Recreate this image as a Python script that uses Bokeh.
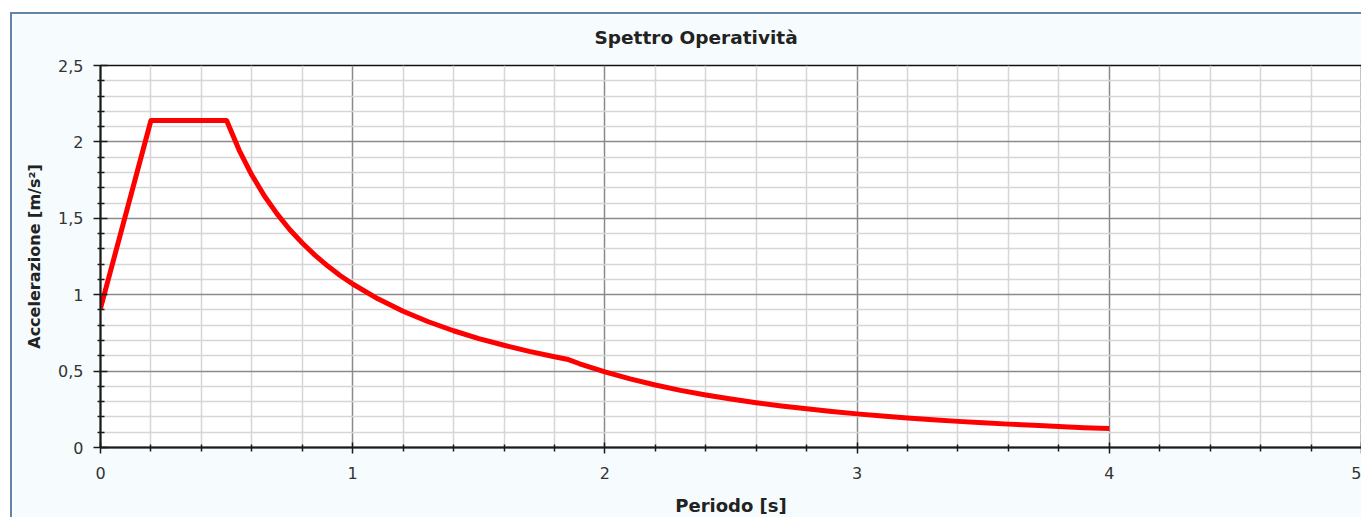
from bokeh.plotting import figure
from bokeh.models import Range1d, FixedTicker, Title
from bokeh.embed import file_html
from bokeh.resources import INLINE

# ---- data ----
periods = [0.0, 0.2, 0.5, 0.55, 0.6, 0.65, 0.7, 0.75, 0.8, 0.85, 0.9, 0.95,
           1.0, 1.1, 1.2, 1.3, 1.4, 1.5, 1.6, 1.7, 1.8, 1.85,
           1.9, 2.0, 2.1, 2.2, 2.3, 2.4, 2.5, 2.6, 2.7, 2.8, 2.9,
           3.0, 3.1, 3.2, 3.3, 3.4, 3.5, 3.6, 3.7, 3.8, 3.9, 4.0]
accel = [0.91, 2.14, 2.14, 1.945, 1.783, 1.646, 1.529, 1.427, 1.338, 1.259, 1.189, 1.126,
         1.07, 0.973, 0.892, 0.823, 0.764, 0.713, 0.669, 0.629, 0.594, 0.578,
         0.548, 0.495, 0.449, 0.409, 0.374, 0.344, 0.317, 0.293, 0.272, 0.253, 0.235,
         0.220, 0.206, 0.193, 0.182, 0.171, 0.162, 0.153, 0.145, 0.137, 0.130, 0.124]

x_major = [0, 1, 2, 3, 4, 5]
x_minor = [0.2, 0.4, 0.6, 0.8, 1.2, 1.4, 1.6, 1.8, 2.2, 2.4, 2.6, 2.8,
           3.2, 3.4, 3.6, 3.8, 4.2, 4.4, 4.6, 4.8]
x_labels = ["0", "1", "2", "3", "4", "5"]
y_major = [0, 0.5, 1, 1.5, 2, 2.5]
y_minor = [0.1, 0.2, 0.3, 0.4, 0.6, 0.7, 0.8, 0.9, 1.1, 1.2, 1.3, 1.4,
           1.6, 1.7, 1.8, 1.9, 2.1, 2.2, 2.3, 2.4]
y_labels = ["0", "0,5", "1", "1,5", "2", "2,5"]

title_text = "Spettro Operatività"
x_title = "Periodo [s]"
y_title = "Accelerazione [m/s²]"

p = figure(width=1351, height=505, output_backend="svg", toolbar_location=None,
           x_range=Range1d(0, 5), y_range=Range1d(0, 2.5),
           min_border_left=88, min_border_right=2, min_border_top=51, min_border_bottom=72)

# outer chart frame (top and left edges visible in the reference)
p.styles = {"margin-left": "10px", "margin-top": "12px",
            "border-left": "2px solid #6383a9", "border-top": "2px solid #6383a9"}

p.border_fill_color = "#f6fcfd"
p.background_fill_color = "#ffffff"
p.outline_line_color = "#111111"
p.outline_line_width = 1.5

# title, with an empty spacer between it and the plot area
main_title = Title(text=title_text, align="left", offset=494, standoff=0,
                   text_font="DejaVu Sans", text_font_style="bold",
                   text_font_size="18.5px", text_color="#222222")
spacer = Title(text=" ", text_font_size="1px", standoff=15)
p.title = None
p.add_layout(spacer, "above")
p.add_layout(main_title, "above")

# axes
xa = p.xaxis[0]
ya = p.yaxis[0]
xa.ticker = FixedTicker(ticks=x_major, minor_ticks=x_minor)
ya.ticker = FixedTicker(ticks=y_major, minor_ticks=y_minor)
xa.major_label_overrides = {v: s for v, s in zip(x_major, x_labels)}
ya.major_label_overrides = {v: s for v, s in zip(y_major, y_labels)}

for ax in (xa, ya):
    ax.axis_line_color = "#1a1a1a"
    ax.axis_line_width = 2
    ax.major_tick_line_color = "#1a1a1a"
    ax.minor_tick_line_color = "#1a1a1a"
    ax.major_tick_line_width = 1.5
    ax.minor_tick_line_width = 1.5
    ax.major_label_text_font = "DejaVu Sans"
    ax.major_label_text_font_size = "16px"
    ax.major_label_text_color = "#333333"
    ax.axis_label_text_font = "DejaVu Sans"
    ax.axis_label_text_font_style = "bold"
    ax.axis_label_text_color = "#222222"

xa.axis_label = x_title
xa.axis_label_text_font_size = "18px"
xa.major_tick_in = 5
xa.major_tick_out = 6
xa.minor_tick_in = 3
xa.minor_tick_out = 4
xa.major_label_standoff = 13
xa.axis_label_standoff = 13

ya.axis_label = y_title
ya.axis_label_text_font_size = "16px"
ya.major_tick_in = 7
ya.major_tick_out = 7
ya.minor_tick_in = 4
ya.minor_tick_out = 3
ya.major_label_standoff = 10
ya.axis_label_standoff = 11

# grids
for g in (p.xgrid[0], p.ygrid[0]):
    g.grid_line_color = "#8a8a8a"
    g.grid_line_width = 1.5
    g.minor_grid_line_color = "#d6d6d6"
    g.minor_grid_line_width = 1.5

# curve
p.line(periods, accel, line_color="#ff0000", line_width=5, line_cap="butt", line_join="round")

open("out.html", "w").write(file_html(p, INLINE))
